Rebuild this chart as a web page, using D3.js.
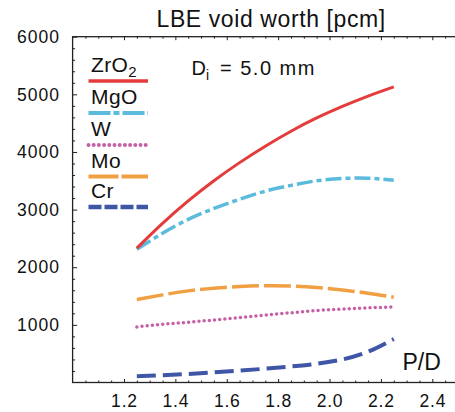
<!DOCTYPE html>
<html lang="en">
  <head>
    <meta charset="utf-8"/>
    <script src="https://d3js.org/d3.v7.min.js"></script>
    <title>LBE void worth</title>
  </head>
  <body style="margin:0;background:#fff">
    <svg id="chart"></svg>
  </body>

  <style>
  text {
    font-family: "Liberation Sans", Arial, Helvetica, sans-serif;
    fill: #111;
  }
  .curve {
    fill: none;
  }
  </style>

  <script>
    const width = 455;
    const height = 412;

    // P/D values where each curve is read
    const pd = [1.25, 1.35, 1.45, 1.55, 1.65, 1.75, 1.85, 1.95, 2.05, 2.15, 2.25];

    // void worth [pcm] per material
    const zro2 = [2330, 2760, 3150, 3500, 3815, 4100, 4360, 4590, 4790, 4970, 5130];
    const mgo  = [2310, 2590, 2830, 3020, 3180, 3320, 3420, 3500, 3540, 3545, 3510];
    const w    = [965, 1010, 1045, 1085, 1125, 1170, 1210, 1248, 1275, 1295, 1312];
    const mo   = [1440, 1520, 1590, 1635, 1665, 1680, 1675, 1648, 1605, 1550, 1480];
    const cr   = [110, 125, 148, 175, 205, 240, 278, 325, 400, 535, 755];

    const names = ["ZrO2", "MgO", "W", "Mo", "Cr"];
    const series = [zro2, mgo, w, mo, cr];

    const xTicks = [1.2, 1.4, 1.6, 1.8, 2.0, 2.2, 2.4];
    const xMinor = [1.05, 1.1, 1.15, 1.25, 1.3, 1.35, 1.45, 1.5, 1.55, 1.65, 1.7, 1.75,
                    1.85, 1.9, 1.95, 2.05, 2.1, 2.15, 2.25, 2.3, 2.35, 2.45];
    const yTicks = [1000, 2000, 3000, 4000, 5000, 6000];
    const yMinor = [200, 400, 600, 800, 1200, 1400, 1600, 1800, 2200, 2400, 2600, 2800,
                    3200, 3400, 3600, 3800, 4200, 4400, 4600, 4800, 5200, 5400, 5600, 5800];

    // line styles (plot, legend)
    const styles = [
      {color: "#e43b3b", w: 3,   dash: null,         ldash: null},
      {color: "#5bbbdd", w: 3.5, dash: "16,4,5,4",   ldash: "22,3,6,3"},
      {color: "#c660a6", w: 3.5, dash: "0,5.2",      ldash: "0,5.2", round: true},
      {color: "#f0a042", w: 3.5, dash: "27,5",       ldash: "30,3"},
      {color: "#3f56a6", w: 4,   dash: "19,7",       ldash: "13,3"}
    ];

    const x = d3.scaleLinear().domain([1.0, 2.5]).range([72.6, 458]);
    const y = d3.scaleLinear().domain([0, 6000]).range([382.5, 36.7]);

    const svg = d3.select("#chart")
      .attr("width", width)
      .attr("height", height);

    // frame
    svg.append("rect")
      .attr("x", x(1.0))
      .attr("y", y(6000))
      .attr("width", x(2.5) - x(1.0))
      .attr("height", y(0) - y(6000))
      .style("fill", "none")
      .style("stroke", "#222")
      .style("stroke-width", 1.3);

    function tickAxis(axis, vals, size, pos) {
      const g = svg.append("g")
        .attr("transform", pos)
        .call(axis.tickValues(vals).tickSize(size).tickFormat(""));
      g.select(".domain").remove();
      g.selectAll("line").style("stroke", "#222").style("stroke-width", 1);
      return g;
    }

    // inward ticks on bottom, top, left
    tickAxis(d3.axisBottom(x), xTicks, -3.5, "translate(0," + y(0) + ")");
    tickAxis(d3.axisBottom(x), xMinor, -2, "translate(0," + y(0) + ")");
    tickAxis(d3.axisTop(x), xTicks, -3.5, "translate(0," + y(6000) + ")");
    tickAxis(d3.axisTop(x), xMinor, -2, "translate(0," + y(6000) + ")");
    tickAxis(d3.axisLeft(y), yTicks, -4.5, "translate(" + x(1.0) + ",0)");
    tickAxis(d3.axisLeft(y), yMinor, -2.5, "translate(" + x(1.0) + ",0)");

    // tick labels
    svg.append("g").selectAll("text")
      .data(xTicks)
      .join("text")
      .attr("x", d => x(d) + 0.5)
      .attr("y", 407)
      .attr("text-anchor", "middle")
      .style("font-size", "17.5px")
      .style("letter-spacing", "0.8px")
      .text(d => d.toFixed(1));

    svg.append("g").selectAll("text")
      .data(yTicks)
      .join("text")
      .attr("x", 60)
      .attr("y", d => y(d) + 6.2)
      .attr("text-anchor", "end")
      .style("font-size", "17.5px")
      .style("letter-spacing", "1px")
      .text(d => d);

    // title
    svg.append("text")
      .attr("x", 156.5)
      .attr("y", 26.7)
      .style("font-size", "23px")
      .style("letter-spacing", "0.6px")
      .text("LBE void worth [pcm]");

    // P/D axis label
    svg.append("text")
      .attr("x", 402.5)
      .attr("y", 370)
      .style("font-size", "23px")
      .text("P/D");

    // D_i annotation
    const di = svg.append("text")
      .attr("x", 191.5)
      .attr("y", 75)
      .style("font-size", "20px");
    di.append("tspan").text("D");
    di.append("tspan").attr("dy", 5).style("font-size", "14px").text("i");
    svg.append("text")
      .attr("x", 220)
      .attr("y", 75)
      .style("font-size", "20px")
      .style("letter-spacing", "1.5px")
      .text("= 5.0 mm");

    // curves
    const line = d3.line()
      .x((d, i) => x(pd[i]))
      .y(d => y(d))
      .curve(d3.curveNatural);

    // draw bottom series first so red stays on top at the start point
    [4, 3, 2, 1, 0].forEach(k => {
      const s = styles[k];
      svg.append("path")
        .datum(series[k])
        .attr("class", "curve")
        .attr("d", line)
        .style("stroke", s.color)
        .style("stroke-width", s.w)
        .style("stroke-linecap", s.round ? "round" : "butt")
        .style("stroke-dasharray", s.dash);
    });

    // legend
    const legY = [72, 104, 136, 167.5, 198];
    names.forEach((n, k) => {
      const s = styles[k];
      const t = svg.append("text")
        .attr("x", 91)
        .attr("y", legY[k])
        .style("font-size", "21px")
        .style("letter-spacing", "0.4px");
      if (n === "ZrO2") {
        t.append("tspan").text("ZrO");
        t.append("tspan").attr("dy", 5).style("font-size", "15px").text("2");
      } else {
        t.text(n);
      }
      svg.append("line")
        .attr("x1", 88.5)
        .attr("x2", 148)
        .attr("y1", legY[k] + 9)
        .attr("y2", legY[k] + 9)
        .style("stroke", s.color)
        .style("stroke-width", s.w + 0.5)
        .style("stroke-linecap", s.round ? "round" : "butt")
        .style("stroke-dasharray", s.ldash);
    });
  </script>
</html>
